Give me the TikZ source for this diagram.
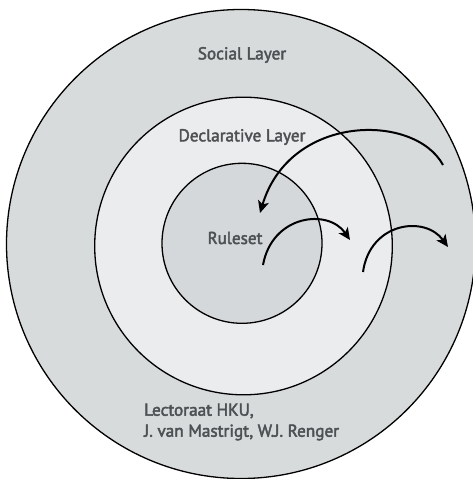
\documentclass[tikz,border=0pt]{standalone}
\usepackage{fontspec}
\setmainfont{PT Sans}
\newfontfamily\layerfont{PT Sans}[FakeBold=2.5]
\usetikzlibrary{arrows.meta}
\definecolor{socialgray}{HTML}{D8DBDC}
\definecolor{declgray}{HTML}{EBECEE}
\definecolor{rulegray}{HTML}{D5D8DA}
\definecolor{textgray}{HTML}{4E5153}

\begin{document}
\begin{tikzpicture}[x=1pt,y=-1pt,
    layer/.style={draw=black,line width=1.3pt},
    lbl/.style={text=textgray,font=\layerfont\fontsize{17.2}{21}\selectfont,inner sep=0pt},
    flow/.style={line width=2pt,-{Stealth[length=12pt,width=11pt,inset=3pt]}}]
   \useasboundingbox (0,0) rectangle (473,479);

   % the three layers
   \draw[layer,fill=socialgray] (241,244) circle (234.5pt);
   \draw[layer,fill=declgray] (243.5,246) circle (148.8pt);
   \draw[layer,fill=rulegray] (242,243.3) circle (80pt);

   \node[lbl] (social) at (242,55) {Social Layer};
   \node[lbl] (decl) at (242,137) {Declarative Layer};
   \node[lbl] (rules) at (235,238) {Ruleset};
   \node[lbl,anchor=west,align=left] (credit) at (144,422)
      {Lectoraat HKU,\\J. van Mastrigt, W.J. Renger};

   % arrows between the layers
   \coordinate (a1) at (443,165);
   \coordinate (b1) at (260,213);
   \coordinate (a2) at (263,265);
   \coordinate (b2) at (350,240);
   \coordinate (a3) at (363,272);
   \coordinate (b3) at (448,247);
   \draw[flow] (a1) .. controls (415,113) and (290,113) .. (b1);
   \draw[flow] (a2) .. controls (272,215) and (328,208) .. (b2);
   \draw[flow] (a3) .. controls (370,222) and (425,215) .. (b3);
\end{tikzpicture}
\end{document}
